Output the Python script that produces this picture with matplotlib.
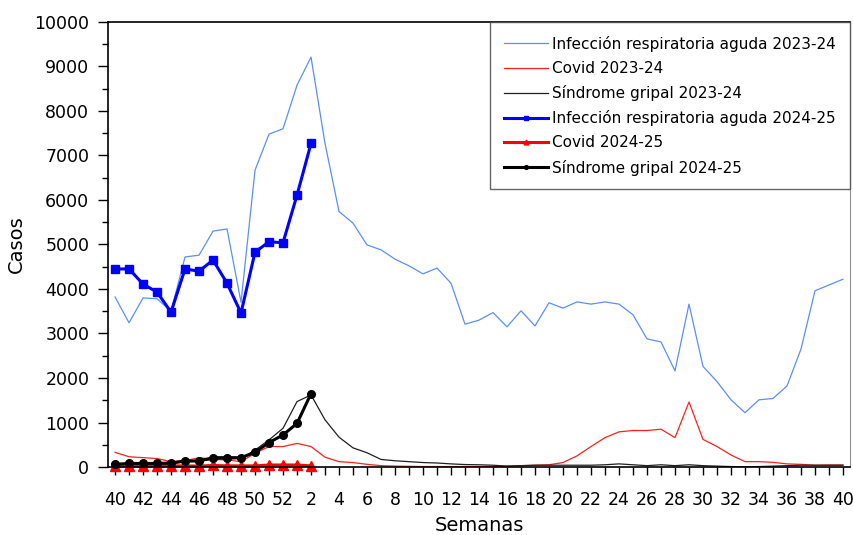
import numpy as np
import matplotlib
matplotlib.use("Agg")
import matplotlib.pyplot as plt
from matplotlib.ticker import MultipleLocator, FixedLocator

# semanas epidemiológicas: 40..52, 1..40
semanas = list(range(40, 53)) + list(range(1, 41))

ira_2324 = [3820, 3240, 3800, 3780, 3500, 4720, 4760, 5300, 5350, 3700,
            6670, 7480, 7600, 8580, 9210, 7270, 5740, 5480, 4990, 4880,
            4670, 4520, 4340, 4470, 4130, 3210, 3300, 3470, 3150, 3510,
            3170, 3690, 3570, 3710, 3660, 3710, 3660, 3420, 2880, 2810,
            2160, 3660, 2260, 1920, 1510, 1220, 1510, 1540, 1820, 2650,
            3960, 4090, 4220]
covid_2324 = [330, 230, 210, 190, 120, 140, 210, 170, 160, 120,
              310, 460, 460, 530, 460, 220, 120, 100, 60, 30,
              20, 15, 10, 10, 10, 10, 10, 10, 20, 30,
              40, 50, 100, 250, 460, 660, 790, 820, 820, 850,
              660, 1460, 620, 460, 270, 120, 120, 105, 70, 60,
              40, 45, 45]
sg_2324 = [50, 60, 60, 60, 70, 120, 130, 170, 180, 190,
           380, 610, 870, 1470, 1620, 1060, 670, 430, 320, 170,
           140, 120, 100, 90, 70, 55, 50, 40, 20, 30,
           40, 40, 40, 40, 40, 50, 70, 50, 30, 50,
           30, 50, 30, 20, 10, 5, 10, 20, 30, 40,
           40, 40, 40]

ira_2425 = [4450, 4450, 4110, 3930, 3480, 4450, 4400, 4650, 4130, 3460,
            4830, 5060, 5040, 6110, 7270]
covid_2425 = [15, 20, 20, 25, 25, 25, 20, 35, 25, 25, 25, 45, 45, 45, 25]
sg_2425 = [60, 80, 80, 80, 90, 135, 135, 210, 210, 210, 330, 550, 720, 980, 1650]

x = np.arange(len(semanas))
x2 = x[:len(ira_2425)]

plt.rcParams["font.family"] = "DejaVu Sans"
fig = plt.figure(figsize=(8.54, 5.35), dpi=100)
ax = fig.add_axes([0.1265, 0.1271, 0.8688, 0.8318])

ax.plot(x, ira_2324, color="#5b8ff5", lw=0.9, label="Infección respiratoria aguda 2023-24")
ax.plot(x, covid_2324, color="#ff2020", lw=0.9, label="Covid 2023-24")
ax.plot(x, sg_2324, color="#202020", lw=0.9, label="Síndrome gripal 2023-24")
ax.plot(x2, ira_2425, color="#0000ff", lw=2.2, marker="s", ms=5.5,
        label="Infección respiratoria aguda 2024-25", clip_on=False)
ax.plot(x2, covid_2425, color="#ff0000", lw=2.2, marker="^", ms=7,
        label="Covid 2024-25", clip_on=False)
ax.plot(x2, sg_2425, color="black", lw=2.2, marker="o", ms=5.5,
        label="Síndrome gripal 2024-25", clip_on=False)

ax.set_xlim(-0.5, 52.5)
ax.set_ylim(0, 10000)
ax.xaxis.set_major_locator(FixedLocator(x[::2]))
ax.set_xticklabels([str(s) for s in semanas[::2]])
ax.xaxis.set_minor_locator(FixedLocator(x[1::2]))
ax.yaxis.set_major_locator(MultipleLocator(1000))
ax.yaxis.set_minor_locator(MultipleLocator(500))
ax.tick_params(axis="both", which="both", direction="out", width=1, labelsize=12.5)
ax.tick_params(axis="x", which="both", length=6, pad=11)
ax.tick_params(axis="y", which="major", length=7, pad=6.5)
ax.tick_params(axis="y", which="minor", length=4)

for s in ["left", "top", "bottom"]:
    ax.spines[s].set_linewidth(1.2)
ax.spines["right"].set_color("#909090")

ax.set_xlabel("Semanas", fontsize=14, labelpad=5)
ax.set_ylabel("Casos", fontsize=14, labelpad=6)

leg = ax.legend(loc="upper right", fontsize=11, frameon=True, fancybox=False,
                edgecolor="#404040", borderaxespad=0, handlelength=2.9,
                markerscale=0.5, labelspacing=0.6, handletextpad=0.3,
                borderpad=0.9)
leg.get_frame().set_linewidth(1.0)

fig.savefig("out.png", dpi=100)
